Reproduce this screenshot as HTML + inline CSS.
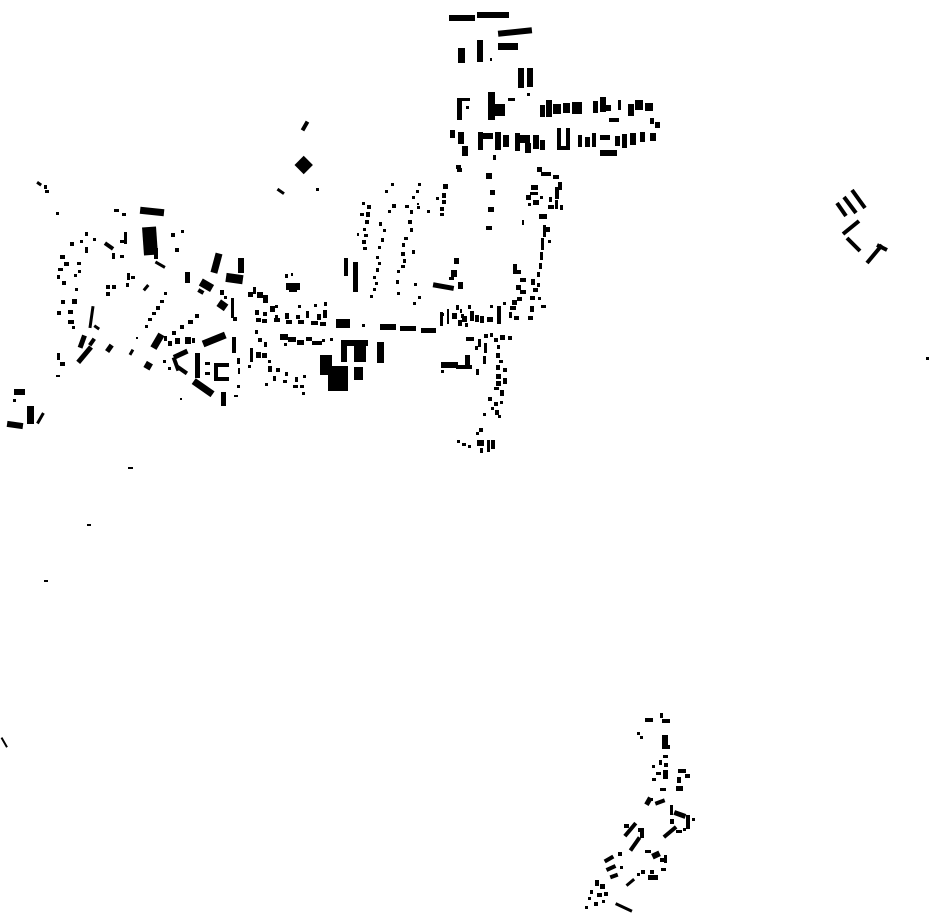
<!DOCTYPE html>
<html><head><meta charset="utf-8"><style>html,body{margin:0;padding:0;background:#fff}svg{display:block}</style></head>
<body>
<svg width="930" height="924" viewBox="0 0 930 924" xmlns="http://www.w3.org/2000/svg" fill="#000">
<!-- north top cluster -->
<rect x="449" y="15" width="26" height="6"/>
<rect x="477" y="12" width="32" height="6"/>
<rect x="498" y="29" width="34" height="6" transform="rotate(-6 515 32)"/>
<rect x="498" y="43" width="20" height="7"/>
<rect x="458" y="48" width="7" height="15"/>
<rect x="477" y="40" width="6" height="22"/>
<rect x="490" y="58" width="2" height="3"/>
<rect x="518" y="68" width="6" height="20"/>
<rect x="527" y="68" width="6" height="19"/>
<rect x="527" y="93" width="3" height="3"/>
<!-- row 1 -->
<rect x="457" y="98" width="5" height="22"/><rect x="462" y="98" width="8" height="3"/><rect x="466" y="106" width="3" height="3"/>
<rect x="488" y="92" width="7" height="28"/><rect x="495" y="104" width="10" height="12"/><rect x="508" y="98" width="7" height="3"/>
<rect x="540" y="105" width="5" height="12"/><rect x="546" y="100" width="6" height="17"/><rect x="553" y="104" width="8" height="10"/><rect x="563" y="103" width="7" height="10"/><rect x="572" y="102" width="10" height="12"/>
<rect x="593" y="101" width="5" height="12"/><rect x="600" y="97" width="6" height="15"/><rect x="606" y="105" width="5" height="6"/><rect x="609" y="118" width="10" height="4"/>
<rect x="618" y="100" width="3" height="10"/><rect x="628" y="104" width="6" height="12"/><rect x="635" y="100" width="8" height="10"/><rect x="645" y="103" width="8" height="8"/><rect x="650" y="118" width="4" height="6"/>
<!-- row 2 -->
<rect x="450" y="130" width="5" height="8"/><rect x="458" y="132" width="6" height="12"/><rect x="462" y="146" width="6" height="10"/>
<rect x="478" y="132" width="5" height="18"/><rect x="483" y="133" width="10" height="6"/><rect x="495" y="132" width="6" height="18"/><rect x="503" y="135" width="6" height="12"/>
<rect x="515" y="133" width="5" height="18"/><rect x="520" y="135" width="10" height="8"/><rect x="525" y="143" width="6" height="10"/><rect x="533" y="135" width="6" height="14"/><rect x="540" y="140" width="5" height="10"/>
<rect x="557" y="128" width="4" height="22"/><rect x="557" y="146" width="13" height="4"/><rect x="566" y="128" width="4" height="20"/>
<rect x="578" y="135" width="4" height="12"/><rect x="585" y="137" width="5" height="10"/><rect x="592" y="133" width="4" height="14"/><rect x="600" y="135" width="10" height="5"/><rect x="600" y="150" width="17" height="6"/>
<rect x="615" y="136" width="5" height="10"/><rect x="622" y="134" width="5" height="14"/><rect x="630" y="133" width="6" height="12"/><rect x="640" y="132" width="5" height="10"/><rect x="650" y="133" width="6" height="8"/><rect x="655" y="122" width="5" height="6"/>
<rect x="493" y="155" width="3" height="5"/><rect x="457" y="168" width="5" height="4"/>
<!-- NW bits -->
<rect x="303" y="121" width="4" height="10" transform="rotate(30 305 126)"/>
<rect x="297" y="158" width="13" height="13" transform="rotate(45 303 165)"/>
<rect x="277" y="190" width="8" height="3" transform="rotate(35 281 191)"/>
<rect x="316" y="188" width="3" height="3"/>
<rect x="37" y="182" width="5" height="3" transform="rotate(35 39 183)"/><rect x="44" y="185" width="3" height="4"/><rect x="45" y="190" width="4" height="3"/>
<rect x="56" y="212" width="3" height="3"/>
<!-- west cluster -->
<rect x="114" y="209" width="5" height="3"/><rect x="122" y="213" width="4" height="3"/>
<rect x="140" y="208" width="24" height="7" transform="rotate(6 152 212)"/>
<rect x="143" y="227" width="14" height="28" transform="rotate(-4 150 241)"/>
<rect x="154" y="248" width="4" height="11"/>
<rect x="171" y="233" width="4" height="4"/><rect x="181" y="230" width="3" height="3"/><rect x="175" y="248" width="4" height="4"/>
<rect x="124" y="232" width="3" height="12"/><rect x="120" y="240" width="5" height="3"/>
<rect x="85" y="232" width="3" height="4"/><rect x="93" y="238" width="3" height="3"/><rect x="80" y="240" width="3" height="3"/>
<rect x="104" y="244" width="10" height="4" transform="rotate(35 109 246)"/><rect x="112" y="253" width="3" height="6"/><rect x="120" y="255" width="4" height="3"/>
<rect x="70" y="242" width="4" height="4"/><rect x="85" y="247" width="3" height="6"/>
<rect x="60" y="255" width="5" height="4"/><rect x="64" y="262" width="5" height="4"/><rect x="58" y="268" width="5" height="3"/><rect x="77" y="262" width="4" height="3"/><rect x="78" y="270" width="3" height="3"/><rect x="57" y="275" width="3" height="4"/><rect x="62" y="281" width="4" height="4"/><rect x="74" y="274" width="3" height="3"/><rect x="75" y="288" width="3" height="3"/>
<rect x="61" y="300" width="4" height="4"/><rect x="72" y="299" width="5" height="5"/><rect x="57" y="311" width="4" height="4"/><rect x="68" y="310" width="5" height="4"/><rect x="68" y="320" width="6" height="4"/><rect x="72" y="326" width="3" height="3"/>
<rect x="155" y="263" width="11" height="3" transform="rotate(30 160 264)"/>
<rect x="90" y="306" width="3" height="22" transform="rotate(8 91 317)"/><rect x="94" y="326" width="6" height="3" transform="rotate(35 97 327)"/>
<rect x="127" y="273" width="3" height="7"/><rect x="131" y="276" width="4" height="3"/><rect x="126" y="283" width="3" height="4"/>
<rect x="106" y="285" width="4" height="4"/><rect x="112" y="285" width="4" height="4"/><rect x="106" y="292" width="4" height="4"/>
<rect x="145" y="284" width="3" height="7" transform="rotate(40 146 287)"/>
<rect x="164" y="292" width="3" height="3"/><rect x="160" y="300" width="4" height="3"/><rect x="156" y="306" width="4" height="4"/><rect x="152" y="312" width="4" height="3"/><rect x="148" y="318" width="4" height="3"/><rect x="145" y="325" width="3" height="3"/>
<rect x="80" y="335" width="5" height="13" transform="rotate(20 82 341)"/><rect x="82" y="345" width="5" height="20" transform="rotate(40 85 355)"/><rect x="90" y="338" width="4" height="8" transform="rotate(35 92 342)"/>
<rect x="107" y="344" width="5" height="8" transform="rotate(35 109 348)"/><rect x="130" y="349" width="3" height="6" transform="rotate(30 131 352)"/>
<rect x="57" y="353" width="3" height="7"/><rect x="60" y="362" width="5" height="4"/><rect x="56" y="375" width="4" height="2"/>
<rect x="136" y="337" width="2" height="2"/>
<!-- middle west -->
<rect x="213" y="253" width="7" height="20" transform="rotate(15 216 263)"/>
<rect x="238" y="258" width="6" height="15"/><rect x="226" y="274" width="17" height="9" transform="rotate(8 234 278)"/>
<rect x="185" y="272" width="5" height="11"/>
<rect x="200" y="281" width="13" height="8" transform="rotate(30 206 285)"/><rect x="198" y="289" width="6" height="4" transform="rotate(30 200 291)"/>
<rect x="218" y="301" width="9" height="8" transform="rotate(35 222 305)"/><rect x="231" y="298" width="3" height="20"/><rect x="233" y="317" width="4" height="4"/>
<rect x="220" y="290" width="4" height="5"/><rect x="224" y="296" width="3" height="3"/>
<rect x="253" y="287" width="3" height="7"/><rect x="248" y="292" width="5" height="5"/><rect x="257" y="292" width="6" height="6"/><rect x="263" y="295" width="5" height="8"/>
<rect x="285" y="274" width="3" height="4"/><rect x="291" y="273" width="2" height="3"/><rect x="286" y="283" width="14" height="7"/><rect x="289" y="289" width="8" height="3"/>
<rect x="275" y="305" width="3" height="3"/><rect x="298" y="305" width="3" height="3"/><rect x="314" y="304" width="3" height="3"/><rect x="324" y="302" width="3" height="4"/>
<rect x="255" y="310" width="4" height="5"/><rect x="263" y="312" width="4" height="4"/><rect x="270" y="306" width="5" height="6"/><rect x="275" y="315" width="3" height="5"/><rect x="285" y="313" width="4" height="6"/><rect x="296" y="315" width="4" height="4"/><rect x="306" y="311" width="3" height="7"/><rect x="317" y="314" width="4" height="6"/><rect x="323" y="310" width="4" height="8"/>
<rect x="256" y="318" width="5" height="4"/><rect x="262" y="319" width="5" height="4"/><rect x="274" y="318" width="6" height="4"/><rect x="286" y="320" width="6" height="4"/><rect x="298" y="320" width="6" height="4"/><rect x="311" y="321" width="7" height="4"/><rect x="320" y="322" width="6" height="4"/>
<rect x="336" y="319" width="14" height="9"/><rect x="362" y="324" width="3" height="3"/>
<rect x="380" y="324" width="16" height="6"/><rect x="400" y="326" width="16" height="5"/><rect x="421" y="328" width="15" height="5"/>
<!-- south-central west -->
<rect x="154" y="333" width="7" height="16" transform="rotate(30 157 341)"/><rect x="164" y="336" width="3" height="5"/><rect x="168" y="341" width="4" height="5"/><rect x="175" y="338" width="5" height="6"/><rect x="185" y="337" width="6" height="7"/><rect x="192" y="338" width="3" height="5"/>
<rect x="172" y="331" width="4" height="4"/><rect x="180" y="325" width="4" height="4"/><rect x="188" y="320" width="5" height="4"/><rect x="195" y="314" width="4" height="4"/>
<rect x="202" y="336" width="24" height="7" transform="rotate(-22 214 339)"/>
<rect x="232" y="337" width="4" height="16"/>
<rect x="173" y="352" width="15" height="5" transform="rotate(-25 180 354)"/><rect x="174" y="357" width="4" height="14" transform="rotate(-20 176 364)"/><rect x="176" y="368" width="12" height="4" transform="rotate(35 182 370)"/>
<rect x="195" y="353" width="5" height="25"/><rect x="205" y="362" width="5" height="3"/><rect x="205" y="372" width="5" height="3"/>
<rect x="214" y="363" width="15" height="4"/><rect x="214" y="363" width="4" height="18"/><rect x="214" y="377" width="15" height="4"/>
<rect x="145" y="362" width="7" height="7" transform="rotate(30 148 365)"/><rect x="163" y="360" width="3" height="3"/><rect x="168" y="367" width="3" height="3"/>
<rect x="192" y="384" width="23" height="7" transform="rotate(35 203 387)"/><rect x="221" y="392" width="5" height="14"/>
<rect x="237" y="358" width="3" height="6"/><rect x="238" y="368" width="2" height="6"/><rect x="237" y="385" width="3" height="3"/><rect x="234" y="395" width="4" height="2"/>
<rect x="255" y="330" width="3" height="4"/><rect x="258" y="338" width="4" height="4"/><rect x="264" y="342" width="3" height="5"/><rect x="250" y="348" width="3" height="14"/><rect x="256" y="352" width="5" height="6"/><rect x="262" y="353" width="5" height="5"/><rect x="248" y="365" width="3" height="3"/><rect x="268" y="360" width="3" height="3"/>
<rect x="268" y="366" width="4" height="6"/><rect x="276" y="368" width="4" height="4"/><rect x="273" y="376" width="3" height="5"/><rect x="285" y="372" width="3" height="4"/><rect x="283" y="380" width="4" height="3"/><rect x="265" y="383" width="3" height="3"/><rect x="295" y="377" width="3" height="5"/><rect x="293" y="385" width="5" height="3"/><rect x="300" y="385" width="4" height="3"/><rect x="303" y="375" width="3" height="3"/><rect x="302" y="392" width="3" height="3"/>
<rect x="280" y="334" width="8" height="6"/><rect x="288" y="337" width="8" height="5"/><rect x="297" y="340" width="7" height="5"/><rect x="284" y="343" width="3" height="3"/><rect x="306" y="337" width="6" height="4"/><rect x="312" y="341" width="10" height="4"/><rect x="322" y="339" width="3" height="3"/><rect x="330" y="338" width="3" height="3"/>
<!-- large complex -->
<rect x="341" y="340" width="27" height="6"/><rect x="341" y="340" width="6" height="22"/><rect x="354" y="345" width="12" height="17"/><rect x="377" y="342" width="7" height="21"/>
<rect x="320" y="355" width="12" height="20"/><rect x="328" y="366" width="20" height="25"/><rect x="354" y="367" width="9" height="13"/>
<rect x="180" y="398" width="2" height="2"/>
<!-- far west -->
<rect x="14" y="389" width="11" height="6"/><rect x="13" y="399" width="3" height="3"/>
<rect x="7" y="422" width="16" height="6" transform="rotate(8 15 425)"/><rect x="27" y="406" width="7" height="18"/><rect x="39" y="412" width="3" height="12" transform="rotate(30 40 418)"/>
<rect x="128" y="467" width="5" height="2"/><rect x="87" y="524" width="4" height="2"/><rect x="44" y="580" width="4" height="2"/>
<rect x="3" y="737" width="2" height="11" transform="rotate(-30 4 742)"/>
<rect x="926" y="357" width="3" height="3"/>
<!-- dot columns -->
<rect x="344" y="258" width="4" height="18"/><rect x="353" y="262" width="5" height="30"/>
<rect x="362" y="202" width="3" height="3"/><rect x="367" y="205" width="4" height="4"/><rect x="360" y="213" width="4" height="3"/><rect x="366" y="212" width="4" height="5"/><rect x="365" y="220" width="4" height="4"/><rect x="363" y="228" width="3" height="3"/><rect x="364" y="234" width="4" height="3"/><rect x="362" y="240" width="4" height="4"/><rect x="363" y="247" width="4" height="3"/><rect x="357" y="233" width="2" height="3"/>
<rect x="379" y="222" width="3" height="4"/><rect x="383" y="229" width="3" height="3"/><rect x="381" y="238" width="3" height="4"/><rect x="378" y="246" width="3" height="3"/><rect x="376" y="256" width="3" height="3"/><rect x="378" y="262" width="3" height="3"/><rect x="376" y="268" width="3" height="4"/><rect x="373" y="276" width="3" height="3"/><rect x="375" y="282" width="3" height="3"/><rect x="373" y="288" width="3" height="3"/><rect x="370" y="295" width="3" height="3"/><rect x="388" y="210" width="3" height="3"/><rect x="392" y="204" width="4" height="4"/><rect x="385" y="190" width="3" height="3"/><rect x="391" y="183" width="3" height="3"/>
<rect x="405" y="205" width="4" height="3"/><rect x="410" y="210" width="3" height="4"/><rect x="408" y="220" width="4" height="4"/><rect x="410" y="228" width="3" height="4"/><rect x="404" y="237" width="4" height="3"/><rect x="402" y="243" width="3" height="4"/><rect x="401" y="252" width="4" height="4"/><rect x="403" y="259" width="3" height="4"/><rect x="401" y="265" width="4" height="3"/><rect x="397" y="270" width="3" height="3"/><rect x="396" y="280" width="3" height="4"/><rect x="397" y="292" width="3" height="3"/><rect x="412" y="196" width="3" height="3"/><rect x="417" y="206" width="3" height="3"/>
<rect x="418" y="183" width="3" height="3"/><rect x="416" y="190" width="3" height="3"/><rect x="417" y="203" width="2" height="2"/><rect x="427" y="210" width="3" height="3"/>
<rect x="443" y="184" width="5" height="5"/><rect x="442" y="193" width="4" height="5"/><rect x="442" y="200" width="4" height="4"/><rect x="440" y="207" width="4" height="4"/><rect x="440" y="213" width="4" height="3"/><rect x="436" y="197" width="3" height="3"/><rect x="412" y="250" width="3" height="4"/><rect x="413" y="302" width="3" height="3"/><rect x="414" y="283" width="3" height="3"/><rect x="418" y="296" width="3" height="3"/>
<rect x="454" y="258" width="5" height="6"/><rect x="451" y="270" width="6" height="7"/><rect x="449" y="277" width="5" height="3"/>
<rect x="433" y="284" width="21" height="5" transform="rotate(10 443 286)"/><rect x="458" y="282" width="5" height="7"/>
<rect x="456" y="305" width="3" height="5"/><rect x="460" y="309" width="2" height="4"/><rect x="441" y="313" width="3" height="3"/><rect x="461" y="314" width="3" height="4"/>
<rect x="440" y="312" width="3" height="14"/><rect x="447" y="309" width="2" height="15"/><rect x="452" y="313" width="5" height="6"/><rect x="462" y="316" width="5" height="6"/><rect x="470" y="311" width="4" height="10"/><rect x="475" y="315" width="4" height="7"/><rect x="480" y="316" width="4" height="7"/><rect x="487" y="317" width="6" height="5"/><rect x="497" y="306" width="4" height="18"/><rect x="490" y="305" width="3" height="3"/><rect x="468" y="305" width="3" height="4"/>
<rect x="458" y="320" width="4" height="6"/><rect x="465" y="323" width="3" height="4"/>
<rect x="456" y="165" width="5" height="4"/>
<rect x="486" y="173" width="6" height="6"/><rect x="490" y="190" width="5" height="5"/><rect x="488" y="207" width="6" height="5"/><rect x="486" y="226" width="6" height="4"/>
<rect x="537" y="167" width="5" height="5"/><rect x="541" y="172" width="10" height="4"/><rect x="553" y="175" width="6" height="4"/><rect x="558" y="182" width="4" height="8"/><rect x="531" y="185" width="7" height="5"/><rect x="530" y="192" width="8" height="3"/><rect x="526" y="195" width="5" height="5"/><rect x="533" y="200" width="6" height="5"/><rect x="540" y="196" width="3" height="3"/><rect x="528" y="203" width="3" height="3"/><rect x="549" y="197" width="3" height="5"/><rect x="548" y="205" width="6" height="4"/><rect x="522" y="220" width="2" height="5"/>
<rect x="539" y="214" width="8" height="5"/><rect x="555" y="187" width="4" height="12"/><rect x="555" y="200" width="3" height="9"/><rect x="560" y="205" width="3" height="5"/>
<rect x="543" y="225" width="3" height="12"/><rect x="541" y="238" width="3" height="12"/><rect x="540" y="252" width="3" height="8"/><rect x="546" y="227" width="4" height="5"/><rect x="548" y="240" width="3" height="3"/><rect x="539" y="263" width="3" height="6"/><rect x="537" y="272" width="3" height="5"/><rect x="537" y="283" width="3" height="4"/><rect x="538" y="297" width="3" height="3"/><rect x="541" y="305" width="5" height="3"/>
<rect x="513" y="264" width="4" height="10"/><rect x="517" y="270" width="4" height="4"/><rect x="520" y="278" width="6" height="4"/><rect x="516" y="285" width="5" height="5"/><rect x="520" y="290" width="6" height="4"/><rect x="517" y="297" width="5" height="4"/><rect x="512" y="300" width="5" height="5"/><rect x="510" y="306" width="6" height="4"/><rect x="503" y="302" width="3" height="3"/><rect x="509" y="312" width="3" height="6"/><rect x="514" y="316" width="5" height="4"/>
<rect x="531" y="279" width="4" height="6"/><rect x="533" y="288" width="5" height="4"/><rect x="530" y="296" width="5" height="4"/><rect x="530" y="306" width="4" height="6"/><rect x="528" y="316" width="5" height="4"/>
<!-- south street -->
<rect x="466" y="337" width="8" height="4"/><rect x="478" y="339" width="3" height="8"/><rect x="484" y="334" width="4" height="4"/><rect x="490" y="333" width="3" height="4"/><rect x="494" y="338" width="4" height="4"/><rect x="500" y="335" width="5" height="5"/><rect x="508" y="336" width="4" height="4"/><rect x="475" y="346" width="3" height="4"/><rect x="484" y="343" width="3" height="10"/><rect x="497" y="345" width="3" height="4"/>
<rect x="441" y="362" width="17" height="6"/><rect x="456" y="365" width="16" height="4"/><rect x="465" y="355" width="5" height="14"/><rect x="441" y="370" width="3" height="3"/><rect x="476" y="369" width="3" height="6"/><rect x="483" y="356" width="3" height="8"/>
<rect x="496" y="353" width="4" height="5"/><rect x="499" y="360" width="4" height="3"/><rect x="496" y="365" width="4" height="5"/><rect x="503" y="368" width="4" height="4"/><rect x="496" y="374" width="5" height="5"/><rect x="503" y="378" width="4" height="6"/><rect x="496" y="381" width="5" height="5"/><rect x="494" y="387" width="5" height="3"/><rect x="500" y="390" width="4" height="6"/><rect x="488" y="397" width="4" height="4"/><rect x="494" y="402" width="4" height="4"/><rect x="500" y="401" width="3" height="3"/><rect x="491" y="407" width="3" height="3"/><rect x="495" y="410" width="4" height="5"/><rect x="498" y="415" width="3" height="3"/><rect x="483" y="413" width="3" height="3"/>
<rect x="479" y="428" width="4" height="4"/><rect x="476" y="432" width="3" height="3"/><rect x="457" y="440" width="3" height="3"/><rect x="462" y="443" width="4" height="3"/><rect x="468" y="445" width="3" height="3"/><rect x="477" y="440" width="7" height="6"/><rect x="487" y="440" width="3" height="12"/><rect x="491" y="440" width="4" height="9"/><rect x="480" y="448" width="3" height="5"/>
<!-- east fragment -->
<g stroke="#000" stroke-width="4" fill="none">
<line x1="837" y1="203" x2="846" y2="216"/>
<line x1="844" y1="197" x2="856" y2="213"/>
<line x1="852" y1="190" x2="865" y2="208"/>
<line x1="843" y1="234" x2="859" y2="221"/>
<line x1="847" y1="238" x2="860" y2="251"/>
<line x1="867" y1="263" x2="882" y2="245"/>
<line x1="877" y1="245" x2="887" y2="250"/>
</g>
<!-- SE cluster -->
<rect x="645" y="718" width="8" height="4"/><rect x="660" y="713" width="3" height="5"/><rect x="662" y="719" width="8" height="4"/>
<rect x="637" y="732" width="3" height="3"/><rect x="640" y="736" width="3" height="3"/>
<rect x="662" y="735" width="6" height="14"/><rect x="662" y="745" width="8" height="4"/>
<rect x="663" y="755" width="5" height="3"/><rect x="659" y="760" width="3" height="5"/><rect x="664" y="763" width="4" height="4"/><rect x="652" y="765" width="3" height="3"/><rect x="656" y="772" width="5" height="3"/><rect x="663" y="770" width="5" height="9"/><rect x="652" y="778" width="4" height="3"/>
<rect x="678" y="769" width="8" height="4"/><rect x="685" y="774" width="5" height="4"/><rect x="677" y="777" width="4" height="6"/><rect x="676" y="786" width="7" height="5"/>
<rect x="660" y="788" width="6" height="3"/><rect x="648" y="798" width="5" height="3"/><rect x="646" y="797" width="5" height="8" transform="rotate(30 648 801)"/><rect x="655" y="800" width="10" height="4" transform="rotate(-20 660 802)"/>
<rect x="670" y="805" width="3" height="10"/><rect x="674" y="812" width="12" height="5" transform="rotate(20 680 814)"/><rect x="686" y="815" width="4" height="14"/><rect x="692" y="818" width="3" height="3"/><rect x="670" y="819" width="4" height="5"/>
<rect x="662" y="830" width="16" height="4" transform="rotate(-40 670 832)"/><rect x="676" y="830" width="6" height="3"/><rect x="683" y="828" width="3" height="3"/>
<rect x="622" y="828" width="17" height="4" transform="rotate(-50 630 830)"/><rect x="624" y="824" width="5" height="4"/>
<rect x="627" y="842" width="16" height="4" transform="rotate(-55 635 844)"/><rect x="638" y="828" width="6" height="4"/><rect x="640" y="829" width="4" height="9"/>
<rect x="645" y="850" width="6" height="3"/><rect x="652" y="852" width="8" height="6" transform="rotate(-25 656 855)"/><rect x="660" y="858" width="6" height="4"/><rect x="664" y="855" width="3" height="8"/><rect x="661" y="868" width="5" height="3"/><rect x="641" y="870" width="4" height="4"/><rect x="650" y="870" width="4" height="4"/>
<rect x="648" y="875" width="10" height="5"/>
<rect x="604" y="857" width="10" height="4" transform="rotate(-30 609 859)"/><rect x="618" y="852" width="4" height="4"/><rect x="606" y="866" width="10" height="4" transform="rotate(-25 611 868)"/><rect x="610" y="874" width="8" height="4" transform="rotate(-20 614 876)"/><rect x="620" y="866" width="3" height="3"/>
<rect x="595" y="880" width="4" height="6"/><rect x="600" y="884" width="5" height="5"/><rect x="590" y="890" width="3" height="4"/><rect x="597" y="893" width="5" height="4"/><rect x="604" y="892" width="4" height="4"/><rect x="588" y="897" width="3" height="3"/><rect x="594" y="902" width="4" height="4"/><rect x="602" y="900" width="3" height="3"/>
<rect x="625" y="881" width="10" height="3" transform="rotate(-40 630 882)"/><rect x="637" y="873" width="3" height="3"/>
<rect x="615" y="906" width="18" height="3" transform="rotate(25 624 907)"/>
<rect x="585" y="906" width="3" height="3"/>
</svg>
</body></html>
